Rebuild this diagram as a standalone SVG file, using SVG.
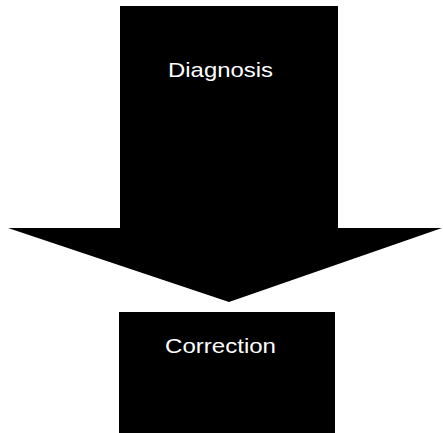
<svg xmlns="http://www.w3.org/2000/svg" width="443" height="433" viewBox="0 0 443 433">
<style>
.shape{fill:#000;}
.lbl{font-family:"Liberation Sans",Arial,sans-serif;font-size:21px;fill:#fff;}
</style>
<rect width="443" height="433" fill="#fff"/>
<g id="diagnosis">
<polygon class="shape" points="120,6 338,6 338,228 442,228 229,302 8,228 120,228"/>
<text class="lbl" x="168" y="77" textLength="105" lengthAdjust="spacingAndGlyphs">Diagnosis</text>
</g>
<g id="connectors"></g>
<g id="correction">
<rect class="shape" x="119" y="312" width="216" height="121"/>
<text class="lbl" x="165" y="353" textLength="111" lengthAdjust="spacingAndGlyphs">Correction</text>
</g>
</svg>
